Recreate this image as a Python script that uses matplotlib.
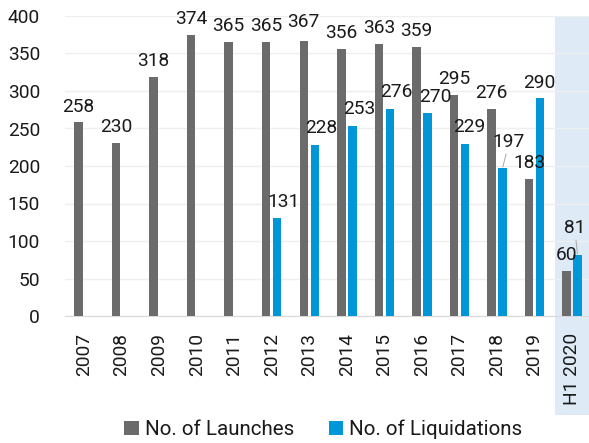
import matplotlib.pyplot as plt
from matplotlib.patches import Rectangle
import matplotlib.transforms as mtransforms

plt.rcParams["font.family"] = ["Roboto", "DejaVu Sans"]

years = ["2007", "2008", "2009", "2010", "2011", "2012", "2013",
         "2014", "2015", "2016", "2017", "2018", "2019", "H1 2020"]
launches = [258, 230, 318, 374, 365, 365, 367, 356, 363, 359, 295, 276, 183, 60]
liquidations = [0, 0, 0, 0, 0, 131, 228, 253, 276, 270, 229, 197, 290, 81]

gray = "#6b6b6b"
blue = "#0096d7"

fig = plt.figure(figsize=(5.89, 4.43), dpi=100)
ax = fig.add_axes([65 / 589, 127 / 443, 524 / 589, 300 / 443])

x = list(range(len(years)))
off = 0.147
w = 0.225

# highlight the half-year column, reaching down past the tick labels
trans = mtransforms.blended_transform_factory(ax.transData, ax.transAxes)
ax.add_patch(Rectangle((12.55, -0.33), 1.2, 1.33, transform=trans,
                       facecolor="#deebf7", edgecolor="none",
                       clip_on=False, zorder=0))

ax.bar([i - off for i in x], launches, width=w, color=gray,
       label="No. of Launches", zorder=3)
liq_x = [i + off for i in x if liquidations[i] > 0]
liq_v = [v for v in liquidations if v > 0]
ax.bar(liq_x, liq_v, width=w, color=blue,
       label="No. of Liquidations", zorder=3)

# data labels (offsets in pixels)
for i, v in enumerate(launches):
    dy = 14 if i == 6 else 11
    ax.annotate(str(v), (i - off, v), xytext=(0, dy), textcoords="offset pixels",
                ha="center", va="baseline", fontsize=13.8, color="#1a1a1a",
                zorder=4)

liq_offsets = {5: (6, 11), 6: (6, 12), 7: (6.5, 12), 8: (6, 12), 9: (7.5, 11),
               10: (4.5, 12), 11: (6.5, 21), 12: (-1, 11), 13: (-3, 22)}
for i, v in enumerate(liquidations):
    if v == 0:
        continue
    dx, dy = liq_offsets[i]
    arrow = None
    if dy > 15:
        arrow = dict(arrowstyle="-", color="#a6a6a6", lw=0.7,
                     shrinkA=0, shrinkB=1)
    ax.annotate(str(v), (i + off, v), xytext=(dx, dy), textcoords="offset pixels",
                ha="center", va="baseline", fontsize=13.8, color="#1a1a1a",
                arrowprops=arrow, zorder=4)

ax.set_xlim(-0.506, 13.45)
ax.set_ylim(0, 400)
ax.set_yticks(range(0, 401, 50))
ax.set_xticks(x)
ax.set_xticklabels(years, rotation=90)
ax.tick_params(axis="x", length=0, pad=12, labelsize=13.8, labelcolor="#1a1a1a")
ax.tick_params(axis="y", length=0, pad=18, labelsize=13.8, labelcolor="#1a1a1a")

ax.grid(axis="y", color="#efefef", linewidth=1, zorder=1)
ax.set_axisbelow(True)
for side in ["left", "right", "top"]:
    ax.spines[side].set_visible(False)
ax.spines["bottom"].set_color("#d9d9d9")
ax.spines["bottom"].set_zorder(2)
ax.patch.set_visible(False)

fig.legend(loc="center", bbox_to_anchor=(0.549, 0.03), ncol=2,
           frameon=False, fontsize=14.8, handlelength=0.7, handleheight=0.7,
           handletextpad=0.3, columnspacing=1.7, labelcolor="#1a1a1a",
           borderpad=0)

plt.savefig("out.png", dpi=100)
